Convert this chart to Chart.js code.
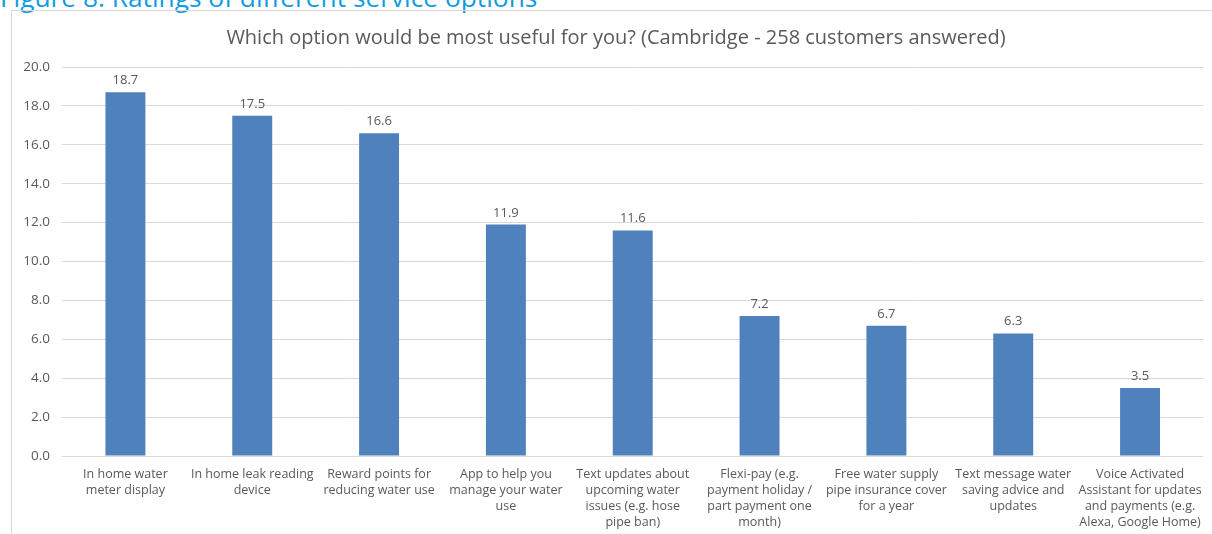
<!DOCTYPE html>
<html>
<head>
<meta charset="utf-8">
<script src="https://cdn.jsdelivr.net/npm/chart.js@4"></script>
<style>
  html, body { margin: 0; padding: 0; background: #fff; width: 1212px; height: 534px; overflow: hidden; }
  #caption { position: absolute; left: 0; top: -16px; font-family: "Open Sans", sans-serif; font-size: 26.3px; line-height: 26px; color: #129be0; white-space: nowrap; }
  #frame { position: absolute; left: 11px; top: 10px; width: 1201px; height: 524px; border-left: 1px solid #d9d9d9; border-top: 1px solid #d9d9d9; box-sizing: border-box; }
  #wrap { position: absolute; left: 0; top: 0; width: 1212px; height: 534px; }
</style>
</head>
<body>
<div id="caption">Figure 8: Ratings of different service options</div>
<div id="frame"></div>
<div id="wrap"><canvas id="c"></canvas></div>
<script>
const chartTitle = "Which option would be most useful for you? (Cambridge - 258 customers answered)";
const categories = [
  ["In home water", "meter display"],
  ["In home leak reading", "device"],
  ["Reward points for", "reducing water use"],
  ["App to help you", "manage your water", "use"],
  ["Text updates about", "upcoming water", "issues (e.g. hose", "pipe ban)"],
  ["Flexi-pay (e.g.", "payment holiday /", "part payment one", "month)"],
  ["Free water supply", "pipe insurance cover", "for a year"],
  ["Text message water", "saving advice and", "updates"],
  ["Voice Activated", "Assistant for updates", "and payments (e.g.", "Alexa, Google Home)"]
];
const values = [18.7, 17.5, 16.6, 11.9, 11.6, 7.2, 6.7, 6.3, 3.5];
const yTicks = [0, 2, 4, 6, 8, 10, 12, 14, 16, 18, 20];

const FONT = "'Open Sans', sans-serif";
const TXT = "#595959";

const valueLabels = {
  id: "valueLabels",
  afterLayout(chart) {
    // the reference centres its title slightly right of the canvas middle
    if (chart.titleBlock) { chart.titleBlock.left += 15; }
  },
  afterDatasetsDraw(chart) {
    const ctx = chart.ctx;
    const meta = chart.getDatasetMeta(0);
    ctx.save();
    ctx.font = "13px " + FONT;
    ctx.fillStyle = TXT;
    ctx.textAlign = "center";
    ctx.textBaseline = "alphabetic";
    meta.data.forEach((bar, i) => {
      ctx.fillText(values[i].toFixed(1), bar.x, bar.y - 8);
    });
    ctx.restore();
  }
};

new Chart(document.getElementById("c"), {
  type: "bar",
  data: {
    labels: categories,
    datasets: [{
      data: values,
      backgroundColor: "#4f81bd",
      borderWidth: 0,
      categoryPercentage: 1.0,
      barPercentage: 0.315
    }]
  },
  options: {
    responsive: true,
    maintainAspectRatio: false,
    animation: false,
    layout: { padding: { left: 12, right: 7, top: 0, bottom: 0 } },
    plugins: {
      legend: { display: false },
      tooltip: { enabled: false },
      title: {
        display: true,
        text: chartTitle,
        color: TXT,
        font: { family: FONT, size: 20, weight: "normal", lineHeight: 1.2 },
        padding: { top: 26, bottom: 17 }
      }
    },
    scales: {
      x: {
        grid: { display: false, drawTicks: false },
        border: { display: false },
        ticks: {
          color: TXT,
          font: { family: FONT, size: 12.5, lineHeight: 1.28 },
          padding: 10,
          maxRotation: 0,
          autoSkip: false
        },
        afterFit(scale) { scale.height = 78; }
      },
      y: {
        min: 0,
        max: 20,
        afterBuildTicks(scale) { scale.ticks = yTicks.map(v => ({ value: v })); },
        grid: { color: "#d9d9d9", drawTicks: false, lineWidth: 1 },
        border: { display: false },
        ticks: {
          color: TXT,
          font: { family: FONT, size: 13.5 },
          padding: 12,
          callback: v => Number(v).toFixed(1)
        },
        afterFit(scale) { scale.width = 50; }
      }
    }
  },
  plugins: [valueLabels]
});
</script>
</body>
</html>
